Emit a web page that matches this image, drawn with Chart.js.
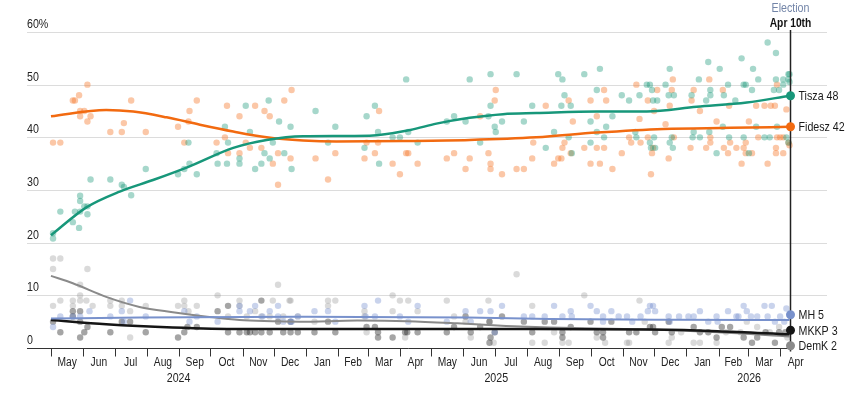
<!DOCTYPE html>
<html><head><meta charset="utf-8">
<script src="https://cdn.jsdelivr.net/npm/chart.js@4"></script>
<style>html,body{margin:0;padding:0;background:#fff}#wrap{width:847px;height:396px}</style>
</head><body><div id="wrap"><canvas id="c" width="847" height="396"></canvas></div>
<script>
// Day numbers: day 0 = 2024-05-01
const electionDay = 709; // 2026-04-10
const yTicks = [0, 10, 20, 30, 40, 50, 60];
const monthLabels = ['Jan','Feb','Mar','Apr','May','Jun','Jul','Aug','Sep','Oct','Nov','Dec'];

const tiszaPolls = [[2,21.8],[2,20.8],[9,25.9],[21,23.9],[23,25.9],[27,22.8],[28,28.9],[28,27.9],[28,25.9],[32,26.9],[35,26.9],[35,25.4],[38,32],[57,32],[68,31],[70,30.6],[77,29],[91,34],[122,33],[128,34],[132,39],[133,35],[140,33],[159,37],[160,35],[167,42],[169,35],[170,39],[181,36],[181,35],[187,46],[191,41],[196,34],[202,35],[205,37],[209,47],[210,36],[213,39],[219,43],[224,37],[230,42],[231,34],[254,45],[266,39],[273,42],[301,38],[303,44],[311,46],[314,41],[315,35],[328,40],[335,40],[341,51],[343,41],[352,39],[380,43],[387,44],[398,43],[402,51],[412,39],[420,44],[422,52],[422,46],[426,42],[427,41],[433,43],[447,52],[454,43],[462,46],[475,38],[483,41],[487,52],[490,46],[491,51],[493,48],[497,40],[499,46],[500,37],[512,52],[518,43],[518,39],[524,49],[524,41],[527,53],[531,40],[533,42],[539,44],[548,48],[555,47],[561,41],[562,40],[565,48],[572,50],[575,50],[575,39],[576,38],[577,49],[578,47],[579,40],[580,38],[582,47],[590,50],[593,48],[594,53],[594,39],[596,40],[597,38],[598,48],[615,48],[616,40],[617,41],[622,51],[623,40],[629,47],[631,54.3],[632,41],[633,49],[633,48],[639,37],[642,53],[645,42],[646,48],[650,50],[651,40],[657,47],[663,55],[665,50],[665,40],[667,50],[670,37],[673,49],[674,53],[677,42],[679,51],[685,40],[688,58],[690,40],[694,49],[696,56],[696,51],[697,42],[699,49],[703,51],[703,50],[706,40],[708,52],[708,51],[708,39],[709,52],[709,50.5]];

const fideszPolls = [[2,39],[9,39],[21,47],[23,47],[27,48],[28,44],[28,45],[32,45],[35,50],[35,43],[38,44],[57,41],[68,41],[70,42.7],[77,47],[91,41],[122,42],[128,39],[132,43],[133,45],[140,47],[159,39],[167,40],[169,46],[170,37],[181,44],[181,37],[187,39],[191,38],[196,46],[202,38],[205,45],[210,44],[213,35],[218,37],[218,31],[224,47],[230,36],[231,49],[254,36],[266,32],[273,37],[301,36],[303,39],[311,37],[314,39],[315,45],[328,35],[335,33],[341,37],[343,37],[352,35],[380,36],[387,37],[398,34],[402,36],[412,44],[420,37],[422,35],[422,34],[426,47],[427,49],[433,33],[447,34],[454,34],[462,36],[463,39],[475,46],[483,35],[487,36],[490,36],[491,38],[493,39],[497,47],[499,37],[501,43],[512,38],[518,47],[518,35],[524,44],[524,38],[527,35],[531,49],[531,38],[533,47],[539,34],[548,37],[555,40],[557,39],[562,50],[565,43.5],[566,39],[573,47],[573,40],[576,33],[577,37],[578,38],[579,45],[582,49],[590,42.5],[593,36],[594,46],[596,49],[597,51],[598,40],[614,38],[615,47],[617,49],[623,45],[629,38],[632,51],[633,40],[633,39],[639,43],[645,49],[646,38],[650,37],[651,46],[652,39],[658,38],[663,35],[665,38],[667,39],[667,37],[670,43],[673,37],[677,46],[679,40],[685,46],[688,35],[691,46],[695,46],[696,38],[696,37],[697,40],[697,50],[700,40],[703,40],[703,37],[706,45.3],[708,39],[709,38.5]];

const mhPolls = [[2,4],[9,6],[21,6],[28,6],[37,7],[57,6],[68,7],[70,5],[76,9],[91,6],[128,7],[133,5],[140,6],[160,5],[181,8],[181,7],[191,7],[196,8],[203,6],[210,7],[218,8],[218,6],[223,5],[230,5],[231,5],[237,6],[253,7],[266,7],[273,5],[301,8],[302,6],[311,6],[314,9],[335,6],[343,5],[352,8],[380,5],[398,7],[403,5],[412,7],[422,7],[426,3],[433,8],[454,6],[462,6],[474,6],[483,8],[491,6],[499,7],[500,6],[518,8],[524,7],[530,6],[530,5],[538,7],[545,6],[553,6],[558,5],[566,6],[573,7],[575,8],[578,8],[580,7],[593,6],[594,5],[603,6],[612,6],[617,6],[623,7],[631,5],[639,6],[640,5],[650,7],[658,6],[660,6],[665,8],[668,7],[672,6],[678,6],[685,8],[688,6],[692,8],[695,5],[700,6],[704,5],[706,7.5]];

const mkkpPolls = [[2,5],[9,3],[21,7],[21,6],[28,7],[28,5],[28,2],[32,3],[35,4],[57,3],[68,5],[76,5],[91,3],[122,2],[128,3],[131,4],[140,4],[160,7],[170,8],[170,3],[181,3],[188,3],[191,3],[196,3],[202,9],[202,3],[210,3],[218,5],[223,3],[230,3],[230,5],[237,3],[253,3],[266,5],[273,3],[303,4],[311,4],[314,3],[314,2],[328,2],[340,3],[342,3],[352,3],[380,3],[387,4],[398,6],[403,3],[412,4],[421,5],[422,2],[421,1],[426,3],[433,6],[454,5],[462,3],[474,5],[483,5],[491,3],[491,2],[499,4],[518,5],[524,3],[530,3],[530,2],[538,5],[555,3],[562,3],[575,4],[578,4],[580,3],[593,5],[596,3],[617,4],[623,3],[631,3],[639,2],[644,4],[652,4],[665,2],[673,1],[678,2],[686,3],[695,1],[699,3],[705,3]];

const demkPolls = [[2,17],[9,17],[2,15],[35,15],[9,9],[28,12],[28,10],[21,9],[28,9],[34,9],[21,8],[40,8],[2,8],[57,9],[57,8],[68,9],[68,8],[76,7],[76,2],[91,8],[122,8],[128,9],[128,8],[132,7],[140,8],[160,10],[170,6],[181,9],[181,8],[188,6],[196,7],[202,6],[210,6],[213,9],[218,12],[223,6],[229,9],[230,9],[237,6],[253,5],[266,9],[266,8],[273,9],[301,7],[301,6],[303,3],[328,10],[328,7],[335,9],[340,2],[343,9],[352,7],[380,9],[387,6],[398,5],[403,2],[420,9],[421,5],[425,1],[447,14],[462,8],[462,1],[474,1],[483,3],[491,1],[497,1],[512,10],[524,2],[532,1],[553,1],[555,1],[565,9],[570,5],[593,1],[596,2],[605,3],[617,1],[623,1],[639,1],[648,3],[662,3],[668,5],[678,4],[690,3],[699,4],[707,2]];

const tiszaTrend = [[0,21.4],[34,26.7],[66,29.7],[98,31.9],[132,34.4],[175,38],[207,39.5],[242,40.2],[306,40.3],[345,41.4],[370,42.6],[402,43.7],[434,44.4],[466,44.6],[524,44.9],[572,44.9],[620,45.8],[668,46.6],[709,47.9]];
const fideszTrend = [[0,44],[53,45.2],[79,44.9],[111,43.8],[143,42.4],[175,41.1],[207,40],[242,39.4],[274,39.2],[338,39.3],[402,39.5],[466,40],[524,40.9],[588,41.6],[652,41.8],[709,42]];
const mhTrend = [[0,5.6],[85,5.8],[239,5.95],[400,5.8],[479,5.5],[600,5.35],[709,5.3]];
const mkkpTrend = [[0,5.3],[53,4.5],[117,3.9],[181,3.6],[300,3.6],[460,3.6],[575,3.5],[640,3.2],[709,2.6]];
const demkTrend = [[0,13.7],[21,12.3],[53,9.7],[85,7.8],[117,6.8],[150,5.95],[181,5.3],[213,5.1],[239,5.0],[294,5.2],[342,5.1],[390,4.7],[437,4.2],[479,3.9],[575,3.5],[640,3.0],[709,2.2]];

const parties = [
  {name:'Tisza', polls:tiszaPolls, trend:tiszaTrend, line:'#17977a', pt:'rgba(22,150,118,0.38)', w:2.5},
  {name:'Fidesz', polls:fideszPolls, trend:fideszTrend, line:'#f26a10', pt:'rgba(245,122,45,0.42)', w:2.5},
  {name:'MH', polls:mhPolls, trend:mhTrend, line:'#7891cc', pt:'rgba(112,140,205,0.38)', w:2},
  {name:'MKKP', polls:mkkpPolls, trend:mkkpTrend, line:'#151515', pt:'rgba(40,40,40,0.42)', w:2.5},
  {name:'DemK', polls:demkPolls, trend:demkTrend, line:'#8a8a8a', pt:'rgba(150,150,150,0.35)', w:2}
];

const FONT = '"Liberation Sans", Arial, sans-serif';
const SX = 0.82; // narrow face emulation
function txt(ctx, s, x, y, align) {
  ctx.save();
  ctx.translate(x, y);
  ctx.scale(SX, 1);
  ctx.textAlign = align || 'left';
  ctx.fillText(s, 0, 0);
  ctx.restore();
}
const toXY = arr => arr.map(([d, v]) => ({x: d, y: v}));

const datasets = [];
parties.forEach(p => {
  datasets.push({type:'line', label:p.name+' trend', data:toXY(p.trend), borderColor:p.line, borderWidth:p.w,
    pointRadius:0, cubicInterpolationMode:'monotone', fill:false, order:0, clip:false});
});
parties.forEach(p => {
  datasets.push({type:'scatter', label:p.name, data:toXY(p.polls), backgroundColor:p.pt, borderWidth:0,
    pointRadius:3.2, pointHoverRadius:3.2, order:1, clip:false});
});

const startUTC = Date.UTC(2024, 4, 1);
const dayOf = (y, m, d) => Math.round((Date.UTC(y, m, d) - startUTC) / 86400000);
const months = [];
for (let y = 2024, m = 4; y < 2026 || m <= 3; ) {
  const s = dayOf(y, m, 1), e = dayOf(m === 11 ? y + 1 : y, (m + 1) % 12, 1);
  months.push({y, m, start:s, mid:s + (e - s) / 2});
  m++; if (m === 12) { m = 0; y++; }
}

const decor = {
  id:'decor',
  beforeDatasetsDraw(chart) {
    const {ctx, chartArea:a, scales:{y}} = chart;
    ctx.save();
    ctx.strokeStyle = '#dcdcdc'; ctx.lineWidth = 1;
    yTicks.forEach(v => {
      if (v === 0) return;
      const py = Math.round(y.getPixelForValue(v)) + 0.5;
      ctx.beginPath(); ctx.moveTo(a.left, py); ctx.lineTo(a.right, py); ctx.stroke();
    });
    ctx.fillStyle = '#222'; ctx.font = '13px ' + FONT; ctx.textBaseline = 'alphabetic';
    yTicks.forEach(v => {
      const py = y.getPixelForValue(v);
      txt(ctx, v === 60 ? '60%' : String(v), a.left, py - 4, 'left');
    });
    ctx.restore();
  },
  afterDatasetsDraw(chart) {
    const {ctx, chartArea:a, scales:{x, y}} = chart;
    const ex = Math.round(x.getPixelForValue(electionDay)) + 0.5;
    const by = Math.round(y.getPixelForValue(0)) + 0.5;
    ctx.save();
    ctx.strokeStyle = '#333'; ctx.lineWidth = 1;
    ctx.beginPath(); ctx.moveTo(a.left, by); ctx.lineTo(ex, by); ctx.stroke();
    ctx.fillStyle = '#222'; ctx.font = '12.5px ' + FONT; ctx.textBaseline = 'alphabetic';
    const years = {};
    months.forEach(mo => {
      const tx = Math.round(x.getPixelForValue(mo.start)) + 0.5;
      ctx.beginPath(); ctx.moveTo(tx, by); ctx.lineTo(tx, by + 8); ctx.stroke();
      const lx = x.getPixelForValue(mo.mid);
      txt(ctx, monthLabels[mo.m], lx, 366, 'center');
      (years[mo.y] = years[mo.y] || []).push(lx);
    });
    ctx.font = '13px ' + FONT;
    Object.keys(years).forEach(yr => {
      const xs = years[yr];
      txt(ctx, yr, (xs[0] + xs[xs.length - 1]) / 2, 382, 'center');
    });
    ctx.strokeStyle = '#222'; ctx.lineWidth = 1.5;
    ctx.beginPath(); ctx.moveTo(ex, 30); ctx.lineTo(ex, by + 3); ctx.stroke();
    ctx.font = '13px ' + FONT; ctx.fillStyle = '#7385a8';
    txt(ctx, 'Election', ex, 12, 'center');
    ctx.font = 'bold 12.5px ' + FONT; ctx.fillStyle = '#111';
    txt(ctx, 'Apr 10th', ex, 27, 'center');
    const items = parties.map(p => {
      const last = p.trend[p.trend.length - 1];
      return {p, val:last[1], y0:y.getPixelForValue(last[1])};
    }).sort((a1, b1) => a1.y0 - b1.y0);
    const gap = 15.5;
    let clusters = items.map(it => ({items:[it]}));
    const place = c => {
      const mean = c.items.reduce((s, it) => s + it.y0, 0) / c.items.length;
      const top = mean - gap * (c.items.length - 1) / 2;
      c.items.forEach((it, i) => it.y = top + i * gap);
    };
    clusters.forEach(place);
    let merged = true;
    while (merged) {
      merged = false;
      for (let i = 0; i < clusters.length - 1; i++) {
        const c1 = clusters[i], c2 = clusters[i + 1];
        if (c2.items[0].y - c1.items[c1.items.length - 1].y < gap) {
          const c = {items:c1.items.concat(c2.items)}; place(c);
          clusters.splice(i, 2, c); merged = true; break;
        }
      }
    }
    ctx.textBaseline = 'middle'; ctx.font = '13px ' + FONT;
    items.forEach(it => {
      ctx.fillStyle = it.p.line;
      ctx.beginPath(); ctx.arc(ex, it.y, 4.5, 0, Math.PI * 2); ctx.fill();
      ctx.fillStyle = '#1a1a1a';
      txt(ctx, it.p.name + ' ' + Math.round(it.val), ex + 8, it.y + 1, 'left');
    });
    ctx.restore();
  }
};

new Chart(document.getElementById('c'), {
  type:'scatter',
  data:{datasets},
  options:{
    responsive:false, animation:false, events:[],
    layout:{padding:{left:27, right:20, top:32, bottom:48}},
    plugins:{legend:{display:false}, tooltip:{enabled:false}},
    scales:{
      x:{type:'linear', min:-23, max:745, display:false},
      y:{type:'linear', min:0, max:60, display:false}
    }
  },
  plugins:[decor]
});
</script></body></html>
